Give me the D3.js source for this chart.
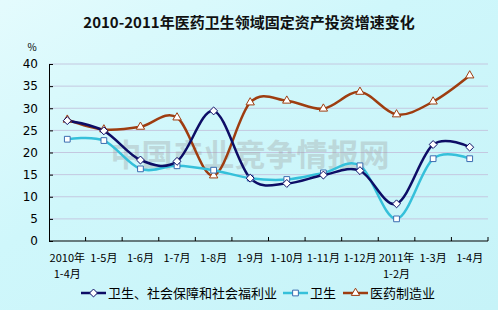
<!DOCTYPE html>
<html>
<head>
<meta charset="utf-8">
<script src="https://cdn.jsdelivr.net/npm/d3@7"></script>
<style>
  body { margin: 0; }
  svg { display: block; font-family: "Noto Sans CJK SC", sans-serif; }
</style>
</head>
<body>
<div id="chart"></div>
<script>
var categories = ["2010年\n1-4月", "1-5月", "1-6月", "1-7月", "1-8月", "1-9月", "1-10月", "1-11月", "1-12月", "2011年\n1-2月", "1-3月", "1-4月"];
var welfare = [27.2, 24.9, 18.3, 18.0, 29.4, 14.2, 13.0, 14.9, 15.9, 8.4, 21.8, 21.2];
var health = [23.0, 22.7, 16.3, 17.0, 16.0, 14.2, 13.9, 15.4, 17.0, 5.0, 18.6, 18.6];
var pharma = [27.4, 25.2, 25.8, 27.9, 14.8, 31.3, 31.7, 29.9, 33.7, 28.6, 31.5, 37.4];
var yTicks = [0, 5, 10, 15, 20, 25, 30, 35, 40];

(function drawChart() {
  var width = 498, height = 310;
  var plotLeft = 49, plotRight = 488, plotTop = 64, plotBottom = 241;

  var svg = d3.select("#chart").append("svg")
    .attr("width", width)
    .attr("height", height);

  var grad = svg.append("defs").append("linearGradient")
    .attr("id", "bg")
    .attr("x1", "0").attr("y1", "0").attr("x2", "1").attr("y2", "1");
  grad.append("stop").attr("offset", "0").attr("stop-color", "#e4fbfd");
  grad.append("stop").attr("offset", "0.4").attr("stop-color", "#cff7fb");
  grad.append("stop").attr("offset", "1").attr("stop-color", "#c6f3f8");

  svg.append("rect")
    .attr("width", width).attr("height", height)
    .attr("fill", "url(#bg)");

  var x = d3.scaleBand().domain(categories).range([plotLeft, plotRight]);
  var y = d3.scaleLinear().domain([0, 40]).range([plotBottom, plotTop]);
  var cx = function(i) { return x(categories[i]) + x.bandwidth() / 2; };

  // title
  svg.append("text")
    .attr("x", 249).attr("y", 28)
    .attr("text-anchor", "middle")
    .style("font-weight", "bold")
    .style("font-size", "15px")
    .attr("fill", "#111")
    .text("2010-2011年医药卫生领域固定资产投资增速变化");

  svg.append("text")
    .attr("x", 32).attr("y", 51)
    .attr("text-anchor", "middle")
    .style("font-size", "10px")
    .attr("fill", "#000")
    .text("%");

  // grid
  svg.append("g").selectAll("line")
    .data(yTicks.filter(function(d){ return d > 0; }))
    .enter().append("line")
    .attr("x1", plotLeft).attr("x2", plotRight)
    .attr("y1", function(d){ return y(d); })
    .attr("y2", function(d){ return y(d); })
    .attr("stroke", "#c4c8e0")
    .attr("stroke-width", 1);

  // watermark
  svg.append("text")
    .attr("x", 250).attr("y", 166)
    .attr("text-anchor", "middle")
    .style("font-size", "31px")
    .style("font-weight", "bold")
    .attr("fill", "#9a9a9a")
    .attr("opacity", 0.32)
    .text("中国产业竞争情报网");

  // y axis
  var yAxis = svg.append("g")
    .attr("transform", "translate(" + plotLeft + ",0)")
    .call(d3.axisLeft(y).tickValues(yTicks).tickSizeInner(-4).tickSizeOuter(0).tickPadding(11));
  yAxis.select(".domain").attr("stroke", "#000");
  yAxis.selectAll("line").attr("stroke", "#000");
  yAxis.selectAll("text")
    .style("font-family", "'DejaVu Sans', sans-serif")
    .style("font-size", "12px")
    .attr("fill", "#000");

  // x axis
  var xAxis = svg.append("g")
    .attr("transform", "translate(0," + plotBottom + ")")
    .call(d3.axisBottom(x).tickSize(0).tickFormat(""));
  xAxis.select(".domain").attr("d", "M" + plotLeft + ",0H" + plotRight).attr("stroke", "#000");
  xAxis.append("g").selectAll("line")
    .data(categories)
    .enter().append("line")
    .attr("x1", function(d){ return x(d) + x.bandwidth(); })
    .attr("x2", function(d){ return x(d) + x.bandwidth(); })
    .attr("y1", 0).attr("y2", -4)
    .attr("stroke", "#000");

  // category labels, one text per line
  var labelLines = [];
  categories.forEach(function(c) {
    c.split("\n").forEach(function(p, i) {
      labelLines.push({ cat: c, text: p, row: i });
    });
  });
  svg.append("g").selectAll("text")
    .data(labelLines)
    .enter().append("text")
    .attr("x", function(d){ return x(d.cat) + x.bandwidth() / 2; })
    .attr("y", function(d){ return 262 + d.row * 16; })
    .attr("text-anchor", "middle")
    .style("font-size", "11px")
    .attr("fill", "#000")
    .text(function(d){ return d.text; });

  var series = [
    { name: "卫生、社会保障和社会福利业", values: welfare, color: "#0d0d66", marker: "diamond", mcolor: "#0d0d66" },
    { name: "卫生", values: health, color: "#35c0da", marker: "square", mcolor: "#3a6cb0" },
    { name: "医药制造业", values: pharma, color: "#9e3d10", marker: "triangle", mcolor: "#9e3d10" }
  ];

  var line = d3.line()
    .x(function(d, i){ return cx(i); })
    .y(function(d){ return y(d); })
    .curve(d3.curveCatmullRom.alpha(0));

  var symbolOf = {
    diamond: d3.symbol().type(d3.symbolDiamond2).size(40),
    square: d3.symbol().type(d3.symbolSquare2).size(42),
    triangle: d3.symbol().type(d3.symbolTriangle2).size(50)
  };

  // pharma drawn first, welfare on top
  [2, 1, 0].forEach(function(k) {
    var s = series[k];
    svg.append("path")
      .datum(s.values)
      .attr("d", line)
      .attr("fill", "none")
      .attr("stroke", s.color)
      .attr("stroke-width", 2.5);
  });
  [2, 1, 0].forEach(function(k) {
    var s = series[k];
    svg.append("g").selectAll("path")
      .data(s.values)
      .enter().append("path")
      .attr("transform", function(d, i){ return "translate(" + cx(i) + "," + y(d) + ")"; })
      .attr("d", symbolOf[s.marker])
      .attr("fill", "#fff")
      .attr("stroke", s.mcolor)
      .attr("stroke-width", 1);
  });

  // legend
  var legendX = [81, 283, 343];
  var lg = svg.append("g").selectAll("g")
    .data(series)
    .enter().append("g")
    .attr("transform", function(d, i){ return "translate(" + legendX[i] + ",293)"; });
  lg.append("line")
    .attr("x1", 0).attr("x2", 25)
    .attr("stroke", function(d){ return d.color; })
    .attr("stroke-width", 2.5);
  lg.append("path")
    .attr("transform", "translate(12.5,0)")
    .attr("d", function(d){ return symbolOf[d.marker](); })
    .attr("fill", "#fff")
    .attr("stroke", function(d){ return d.mcolor; });
  lg.append("text")
    .attr("x", 27).attr("y", 5)
    .style("font-size", "13px")
    .attr("fill", "#000")
    .text(function(d){ return d.name; });
})();
</script>
</body>
</html>
